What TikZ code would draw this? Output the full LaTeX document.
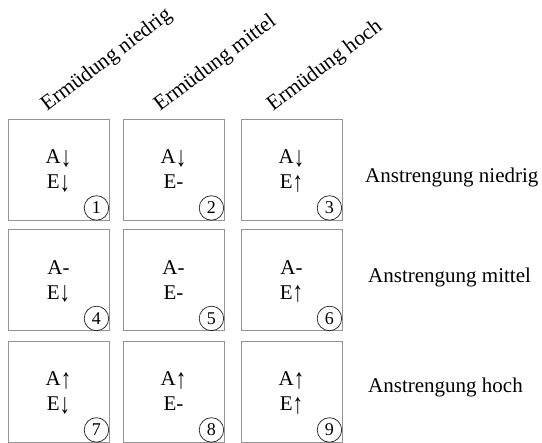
\documentclass[tikz,border=0pt]{standalone}
\usepackage{fontspec}
\setmainfont{Liberation Serif}
\newcommand\myarr[1]{\smash{\raisebox{-0.12em}{\scalebox{1}[1.35]{#1}}}}
\begin{document}
\begin{tikzpicture}[x=1pt,y=-1pt,
  cell/.style={draw=black!42, line width=0.9pt, minimum width=101pt, minimum height=101pt,
    inner sep=0pt, align=center, font=\fontsize{21}{25}\selectfont},
  numcirc/.style={circle, draw=black!85, line width=0.75pt, minimum size=24.5pt, inner sep=0pt,
    font=\fontsize{18}{18}\selectfont},
  rowlabel/.style={font=\fontsize{21}{25}\selectfont, anchor=base west, inner sep=0pt},
  collabel/.style={font=\fontsize{21.5}{24}\selectfont, anchor=base west, inner sep=0pt, rotate=37}]
\useasboundingbox (0,0) rectangle (542,443);

% column headers
\node[collabel] (h1) at (47,112) {Ermüdung niedrig};
\node[collabel] (h2) at (160,112) {Ermüdung mittel};
\node[collabel] (h3) at (273,112) {Ermüdung hoch};

% cells
\node[cell] (c1) at (58.5,169.5) {A\myarr{↓}\\E\myarr{↓}};
\node[cell] (c2) at (173.5,169.5) {A\myarr{↓}\\E-};
\node[cell] (c3) at (291.5,169.5) {A\myarr{↓}\\E\myarr{↑}};
\node[cell] (c4) at (58.5,280) {A-\\E\myarr{↓}};
\node[cell] (c5) at (173.5,280) {A-\\E-};
\node[cell] (c6) at (291.5,280) {A-\\E\myarr{↑}};
\node[cell] (c7) at (58.5,391.5) {A\myarr{↑}\\E\myarr{↓}};
\node[cell] (c8) at (173.5,391.5) {A\myarr{↑}\\E-};
\node[cell] (c9) at (291.5,391.5) {A\myarr{↑}\\E\myarr{↑}};

% circled numbers
\foreach \i in {1,...,9}
  \node[numcirc] (n\i) at ([xshift=-13pt,yshift=12.5pt]c\i.south east) {\i};

% row labels
\node[rowlabel] (r1) at (365,182.5) {Anstrengung niedrig};
\node[rowlabel] (r2) at (368,283) {Anstrengung mittel};
\node[rowlabel] (r3) at (368,393) {Anstrengung hoch};
\end{tikzpicture}
\end{document}
